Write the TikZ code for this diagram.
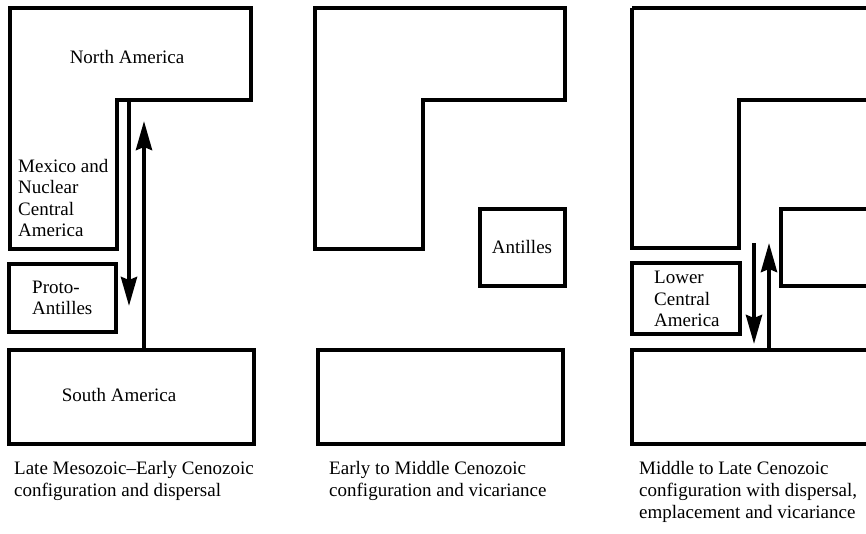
\documentclass[tikz,border=0pt]{standalone}
\usepackage{fontspec}
\setmainfont{Liberation Serif}
\usetikzlibrary{arrows.meta}
\tikzset{
  land/.style ={draw, line width=4pt, line join=miter},
  disp/.style ={-{Stealth[length=29pt, width=16pt, inset=3pt]},
                line width=4pt},
  lbl/.style  ={font=\fontsize{19}{21.5}\selectfont, inner sep=0pt,
                align=left},
  capt/.style ={font=\fontsize{19}{22}\selectfont, inner sep=0pt,
                align=left, anchor=north west},
}
\begin{document}
\begin{tikzpicture}[x=1pt, y=-1pt]
  \useasboundingbox (0,0) rectangle (866,533);
  \clip (0,0) rectangle (866,533);

  % panel 1: late Mesozoic - early Cenozoic
  \draw[land] (10,8) -- (251,8) -- (251,100) -- (117,100) -- (117,249)
    -- (10,249) -- cycle;
  \draw[land] (9,264) rectangle (116,332);
  \draw[land] (9,350) rectangle (254,444);
  \node[lbl] (na1) at (127,57) {North America};
  \node[lbl, anchor=west] (mex1) at (18,198)
    {Mexico and\\Nuclear\\Central\\America};
  \node[lbl, anchor=west] (pa1) at (32,298) {Proto-\\Antilles};
  \node[lbl] (sa1) at (119,395) {South America};
  \coordinate (d1s) at (129,102);
  \coordinate (d1e) at (129,306);
  \coordinate (u1s) at (144,350);
  \coordinate (u1e) at (144,121);
  \draw[disp] (d1s) -- (d1e);
  \draw[disp] (u1s) -- (u1e);
  \node[capt] (c1) at (14,461)
    {Late Mesozoic--Early Cenozoic\\configuration and dispersal};

  % panel 2: early to middle Cenozoic
  \draw[land] (315,8) -- (565,8) -- (565,100) -- (423,100) -- (423,249)
    -- (315,249) -- cycle;
  \draw[land] (480,209) rectangle (565,286);
  \draw[land] (318,350) rectangle (563,444);
  \node[lbl] (ant2) at (522,247) {Antilles};
  \node[capt] (c2) at (329,461)
    {Early to Middle Cenozoic\\configuration and vicariance};

  % panel 3: middle to late Cenozoic
  \draw[land] (632,8) -- (900,8) (900,100) -- (739,100) -- (739,248)
    -- (632,248) -- (632,8);
  \draw[land] (900,209) -- (781,209) -- (781,286) -- (900,286);
  \draw[land] (632,263) rectangle (740,334);
  \draw[land] (900,350) -- (632,350) -- (632,444) -- (900,444);
  \node[lbl, anchor=west] (lca3) at (654,299)
    {Lower\\Central\\America};
  \coordinate (d3s) at (754,243);
  \coordinate (d3e) at (754,344);
  \coordinate (u3s) at (769,350);
  \coordinate (u3e) at (769,243);
  \draw[disp] (d3s) -- (d3e);
  \draw[disp] (u3s) -- (u3e);
  \node[capt] (c3) at (639,461)
    {Middle to Late Cenozoic\\configuration with dispersal,\\emplacement and vicariance};
\end{tikzpicture}
\end{document}
